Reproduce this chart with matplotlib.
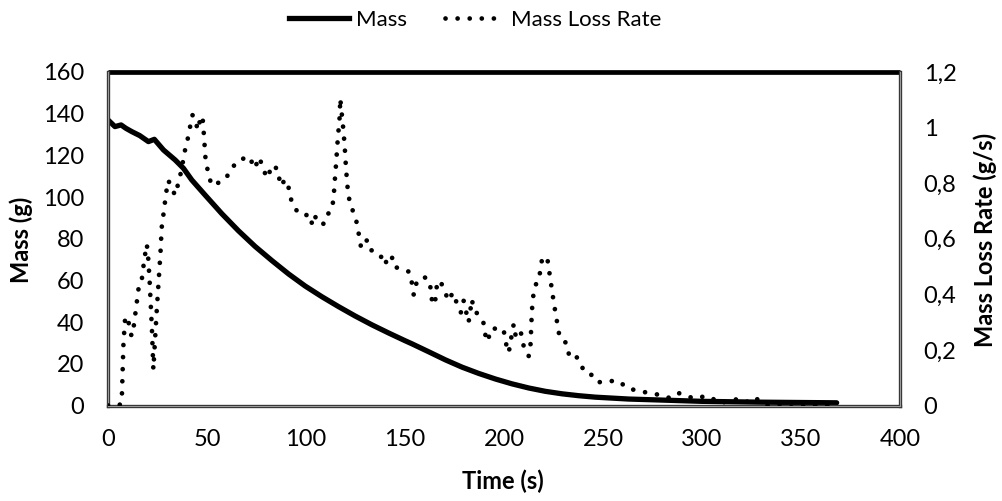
import numpy as np
import matplotlib
matplotlib.use('Agg')
import matplotlib.pyplot as plt
from matplotlib.lines import Line2D

plt.rcParams['font.family'] = ['Lato', 'DejaVu Sans']

# mass curve (s, g)
t_mass = [0, 3.5, 6.6, 9, 12, 16, 20.4, 23.4, 28, 33.9, 38.1, 42.3, 49, 57.5,
          65.9, 74.3, 82.8, 91.2, 99.6, 108, 116.5, 124.9, 133.3, 141.7, 150,
          153.5, 161.9, 170.4, 178.8, 187.2, 195.7, 204, 212.5, 220.9, 229.4,
          237.8, 246.2, 263, 280, 300, 330, 368]
mass = [137, 133.8, 134.6, 133, 131.4, 129.5, 126.6, 127.7, 122.6, 117.8, 113.8,
        108.2, 101, 92.0, 83.8, 76.3, 69.5, 63.1, 57.3, 52.2, 47.4, 42.9, 38.7,
        34.8, 31.1, 29.6, 25.8, 21.9, 18.4, 15.4, 12.7, 10.4, 8.4, 6.8, 5.6,
        4.7, 4.0, 3.1, 2.6, 2.0, 1.6, 1.3]

# mass loss rate (s, g/s)
t_mlr = [0, 5.5, 6.9, 7.4, 7.8, 8.6, 10.0, 11.0, 11.9, 12.9, 14.5, 15.4, 17.0,
         18.4, 19.6, 20.3, 21.0, 21.6, 22.2, 22.9, 23.6, 24.5, 25.4, 26.5, 27.1,
         28.5, 29.2, 30.5, 32.2, 33.9, 35.5, 36.9, 37.8, 38.9, 40.3, 42.6, 43.7,
         45.3, 46.5, 47.7, 48.2, 48.6, 49.0, 49.4, 51.1, 52.1, 54.1, 56.6, 59.5,
         62.2, 65.1, 67.6, 69.6, 72.1, 74.3, 76.0, 78.5, 79.7, 81.4, 81.9, 85.6,
         86.1, 87.3, 89.2, 90.9, 91.5, 93.4, 96.2, 99.3, 101.7, 103.3, 105.0,
         108.9, 110.6, 113.1, 114.0, 114.3, 115.2, 116.0, 117.0, 117.3, 117.8,
         118.5, 119.5, 120.2, 121.2, 122.3, 124.5, 126.1, 126.9, 127.9, 130.8,
         132.5, 135.0, 137.6, 139.3, 141.5, 143.2, 144.3, 148.5, 152.2, 153.5,
         154.4, 155.2, 158.6, 161.4, 162.8, 163.3, 165.0, 165.7, 166.2, 167.8,
         170.1, 172.0, 174.1, 176.2, 178.2, 179.6, 182.1, 183.8, 184.7, 187.2,
         189.7, 190.6, 191.9, 193.1, 196.5, 199.8, 200.7, 202.4, 203.2, 204.9,
         205.8, 208.3, 209.2, 210.9, 212.5, 213.4, 213.9, 214.2, 214.7, 215.9,
         217.6, 218.4, 219.3, 221.8, 222.6, 223.5, 225.2, 227.2, 228.1, 230.2,
         231.9, 232.8, 234.8, 238.2, 240.4, 243.8, 247.2, 252.3, 257.9, 262.4,
         269.5, 276.7, 284.3, 288.5, 296.0, 299.0, 302.7, 305.2, 308.6, 317.0,
         322.0, 326.2, 333.0, 340.0, 346.2, 355.0, 368.0]
mlr = [0, 0, 0.01, 0.13, 0.224, 0.31, 0.32, 0.27, 0.25, 0.28, 0.37, 0.42, 0.45,
       0.53, 0.58, 0.53, 0.45, 0.36, 0.27, 0.13, 0.22, 0.33, 0.43, 0.55, 0.64,
       0.715, 0.76, 0.81, 0.78, 0.757, 0.80, 0.841, 0.877, 0.919, 0.961, 1.045,
       1.039, 0.991, 1.027, 1.042, 0.997, 0.955, 0.913, 0.871, 0.829, 0.793,
       0.80, 0.802, 0.817, 0.85, 0.877, 0.883, 0.898, 0.883, 0.853, 0.893, 0.859,
       0.823, 0.823, 0.862, 0.853, 0.829, 0.79, 0.811, 0.805, 0.763, 0.721,
       0.692, 0.683, 0.689, 0.647, 0.682, 0.653, 0.685, 0.706, 0.751, 0.787,
       0.871, 0.955, 1.039, 1.105, 1.066, 1.021, 0.937, 0.853, 0.766, 0.725,
       0.685, 0.646, 0.602, 0.566, 0.595, 0.56, 0.553, 0.542, 0.506, 0.526,
       0.542, 0.50, 0.49, 0.481, 0.44, 0.398, 0.434, 0.463, 0.458, 0.427, 0.386,
       0.362, 0.404, 0.442, 0.449, 0.41, 0.377, 0.406, 0.368, 0.335, 0.377,
       0.299, 0.382, 0.344, 0.326, 0.296, 0.254, 0.23, 0.274, 0.278, 0.274,
       0.23, 0.19, 0.226, 0.293, 0.254, 0.274, 0.233, 0.19, 0.178, 0.221, 0.308,
       0.35, 0.391, 0.434, 0.449, 0.491, 0.53, 0.533, 0.494, 0.452, 0.368,
       0.284, 0.245, 0.233, 0.221, 0.182, 0.19, 0.161, 0.122, 0.113, 0.083,
       0.088, 0.088, 0.062, 0.05, 0.041, 0.026, 0.044, 0.025, 0.03, 0.034,
       0.026, 0.008, 0.022, 0.01, 0.03, 0.0, 0.005, -0.008, 0.0, 0.0]

left_ticks = [0, 20, 40, 60, 80, 100, 120, 140, 160]
right_ticks = [0, 0.2, 0.4, 0.6, 0.8, 1.0, 1.2]
right_labels = ['0', '0,2', '0,4', '0,6', '0,8', '1', '1,2']
x_ticks = [0, 50, 100, 150, 200, 250, 300, 350, 400]

fig = plt.figure(figsize=(10.03, 5.01), dpi=100)
ax = fig.add_axes([0.1077, 0.1906, 0.7896, 0.6657])
ax2 = ax.twinx()

dot_style = dict(color='black', lw=3.4, linestyle=(0, (0.01, 2.55)),
                 dash_capstyle='round')
l1, = ax.plot(t_mass, mass, color='black', lw=3.8, solid_capstyle='round',
              solid_joinstyle='round', zorder=3)
l2, = ax2.plot(t_mlr, mlr, **dot_style)

ax.set_xlim(0, 400)
ax.set_ylim(0, 160)
ax2.set_ylim(0, 1.2)
ax.set_xticks(x_ticks)
ax.set_yticks(left_ticks)
ax2.set_yticks(right_ticks)
ax2.set_yticklabels(right_labels)

for a in (ax, ax2):
    a.tick_params(length=0, labelsize=17, pad=17)
    for s in a.spines.values():
        s.set_visible(False)

# plot area frame: thick black top, grey double edges elsewhere
ax.plot([0, 1], [1, 1], transform=ax.transAxes, color='black', lw=3.4,
        clip_on=False, zorder=5, solid_capstyle='butt')
for xs, ys in [([0, 0], [0, 1]), ([1, 1], [0, 1]), ([0, 1], [0, 0])]:
    ax.plot(xs, ys, transform=ax.transAxes, color='#333333', lw=2.4,
            clip_on=False, zorder=5)
    ax.plot(xs, ys, transform=ax.transAxes, color='#9a9a9a', lw=0.8,
            clip_on=False, zorder=6)

fig.text(503 / 1003, 1 - 481 / 501, 'Time (s)', fontsize=17, fontweight='bold',
         ha='center', va='center')
fig.text(21 / 1003, 1 - 240 / 501, 'Mass (g)', fontsize=17, fontweight='bold',
         ha='center', va='center', rotation=90)
fig.text(985 / 1003, 1 - 240 / 501, 'Mass Loss Rate (g/s)', fontsize=17,
         fontweight='bold', ha='center', va='center', rotation=90)

h1 = Line2D([], [], color='black', lw=3.8)
h2 = Line2D([], [], **dot_style)
fig.legend([h1, h2], ['Mass', 'Mass Loss Rate'], loc='upper center',
           bbox_to_anchor=(0.474, 1.02), ncol=2, frameon=False, fontsize=16,
           handlelength=2.7, columnspacing=1.7, handletextpad=0.3)

fig.savefig('out.png', dpi=100)
